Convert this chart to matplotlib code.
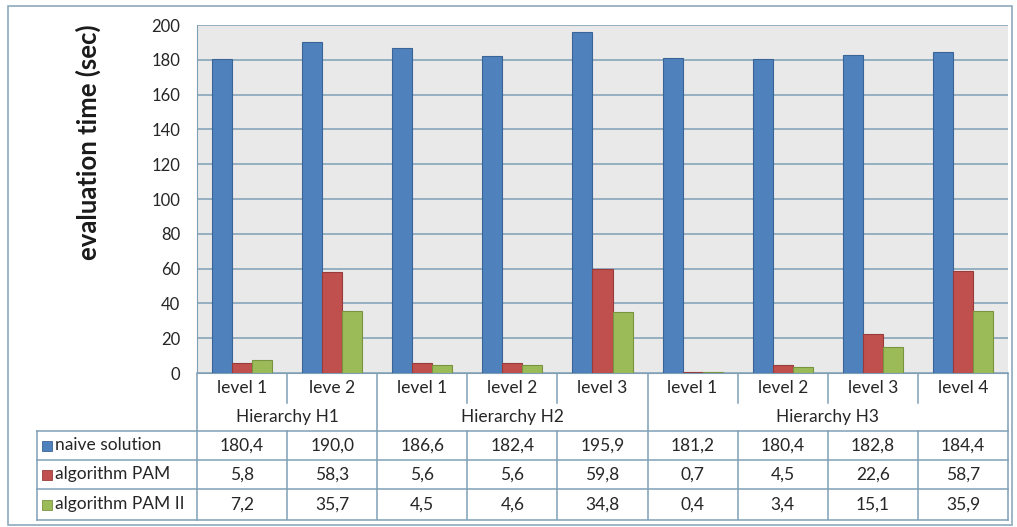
import matplotlib
matplotlib.use("Agg")
import matplotlib.pyplot as plt
import numpy as np

plt.rcParams["font.family"] = ["Lato", "DejaVu Sans"]

levels = ["level 1", "leve 2", "level 1", "level 2", "level 3",
          "level 1", "level 2", "level 3", "level 4"]
hierarchies = [("Hierarchy H1", 0, 1), ("Hierarchy H2", 2, 4), ("Hierarchy H3", 5, 8)]
series_names = ["naive solution", "algorithm PAM", "algorithm PAM II"]
naive = [180.4, 190.0, 186.6, 182.4, 195.9, 181.2, 180.4, 182.8, 184.4]
pam = [5.8, 58.3, 5.6, 5.6, 59.8, 0.7, 4.5, 22.6, 58.7]
pam2 = [7.2, 35.7, 4.5, 4.6, 34.8, 0.4, 3.4, 15.1, 35.9]
colors = ["#4f81bd", "#c0504d", "#9bbb59"]
edge_colors = ["#3a6496", "#973c3a", "#79933f"]

W, H = 1017, 527
grid_c = "#7f9fb6"
text_c = "#262626"
fs = 12.5

fig = plt.figure(figsize=(W / 100, H / 100), dpi=100)
fig.patch.set_facecolor("white")


def fx(px):
    return px / W


def fy(py):
    return 1 - py / H


# chart outer frame
fig.add_artist(plt.Rectangle((fx(8), fy(525)), fx(1012) - fx(8), fy(6) - fy(525),
                             transform=fig.transFigure, fill=False,
                             edgecolor="#8ea9bd", linewidth=1.2))

# plot area
left, right, top, bottom = 197, 1008, 25, 373
ax = fig.add_axes([fx(left), fy(bottom), fx(right) - fx(left), fy(top) - fy(bottom)])
ax.set_facecolor("#e9e9e9")
n = len(levels)
x = np.arange(n)
bw = 0.222
for k, vals in enumerate([naive, pam, pam2]):
    ax.bar(x + (k - 1) * bw, vals, bw, color=colors[k], edgecolor=edge_colors[k],
           linewidth=0.8, zorder=3)
ax.set_xlim(-0.5, n - 0.5)
ax.set_ylim(0, 200)
ax.set_yticks(np.arange(0, 201, 20))
ax.tick_params(axis="y", length=0, pad=12, labelsize=12, labelcolor=text_c)
ax.tick_params(axis="x", bottom=False, labelbottom=False)
ax.yaxis.grid(True, color=grid_c, linewidth=1.1, zorder=0)
for s in ["top", "right"]:
    ax.spines[s].set_visible(False)
ax.spines["left"].set_color(grid_c)
ax.spines["bottom"].set_color(grid_c)
ax.set_ylabel("evaluation time (sec)", fontsize=18.5, fontweight="bold",
              color="#1a1a1a")
ax.yaxis.set_label_coords((101 - left) / (right - left), (bottom - 142) / (bottom - top))

# data table below the plot
legend_left = 37
px_per_cat = (right - left) / n
legend_w = (left - legend_left) / px_per_cat
tb_top, tb_bottom = 373, 520
tax = fig.add_axes([fx(legend_left), fy(tb_bottom), fx(right) - fx(legend_left),
                    fy(tb_top) - fy(tb_bottom)])
tax.set_xlim(-0.5 - legend_w, n - 0.5)
tax.set_ylim(tb_bottom, tb_top)
tax.axis("off")

row_lv = (373, 403)
row_h = (403, 431)
data_rows = [(431, 460), (460, 489), (489, 520)]
lc = grid_c
lw = 1.1

# horizontal lines
for y in [431, 460, 489, 520]:
    tax.plot([-0.5 - legend_w, n - 0.5], [y, y], color=lc, lw=lw, clip_on=False)
# vertical lines
tax.plot([-0.5, -0.5], [373, 520], color=lc, lw=lw, clip_on=False)
tax.plot([n - 0.5, n - 0.5], [373, 520], color=lc, lw=lw, clip_on=False)
tax.plot([-0.5 - legend_w] * 2, [431, 520], color=lc, lw=lw, clip_on=False)
group_ends = [e for _, _, e in hierarchies[:-1]]
for i in range(n - 1):
    xb = i + 0.5
    if i in group_ends:
        tax.plot([xb, xb], [373, 520], color=lc, lw=lw)
    else:
        tax.plot([xb, xb], [373, 403], color=lc, lw=lw)
        tax.plot([xb, xb], [431, 520], color=lc, lw=lw)

for i, lv in enumerate(levels):
    tax.text(i, sum(row_lv) / 2, lv, ha="center", va="center", fontsize=fs, color=text_c)
for name, s, e in hierarchies:
    tax.text((s + e) / 2, sum(row_h) / 2, name, ha="center", va="center",
             fontsize=fs, color=text_c)

for k, (vals, (y0, y1)) in enumerate(zip([naive, pam, pam2], data_rows)):
    yc = (y0 + y1) / 2
    sq = 10 / px_per_cat
    tax.add_patch(plt.Rectangle((-0.5 - legend_w + 5 / px_per_cat, yc + 5), sq, -10,
                                facecolor=colors[k], edgecolor=edge_colors[k], lw=0.6))
    tax.text(-0.5 - legend_w + 18 / px_per_cat, yc, series_names[k], ha="left",
             va="center", fontsize=fs, color=text_c)
    for i, v in enumerate(vals):
        tax.text(i, yc, f"{v:.1f}".replace(".", ","), ha="center", va="center",
                 fontsize=fs, color=text_c)

fig.savefig("out.png", dpi=100)
